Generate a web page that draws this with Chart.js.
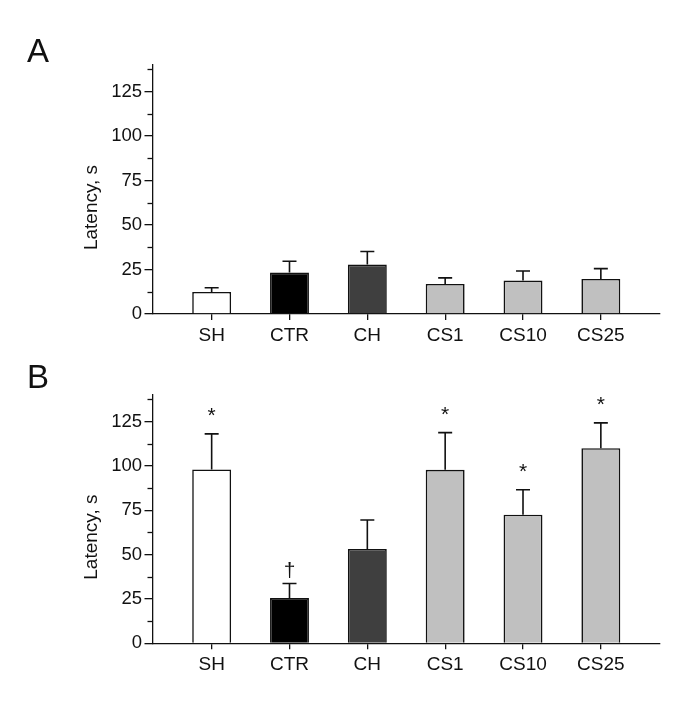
<!DOCTYPE html>
<html>
<head>
<meta charset="utf-8">
<script src="https://cdn.jsdelivr.net/npm/chart.js@4"></script>
<style>
  html, body { margin: 0; padding: 0; background: #fff; }
  #wrap { position: relative; width: 685px; height: 711px; }
  canvas { position: absolute; left: 0; }
</style>
</head>
<body>
<div id="wrap">
  <canvas id="cA" width="685" height="355" style="top:0"></canvas>
  <canvas id="cB" width="685" height="356" style="top:355px"></canvas>
</div>
<script>
// ---- data ----
const categories = ['SH', 'CTR', 'CH', 'CS1', 'CS10', 'CS25'];
const yTickValues = [0, 25, 50, 75, 100, 125];
const yTitle = 'Latency, s';

const latencyA = [12.4, 23.3, 27.8, 16.9, 18.8, 19.7];
const errorA   = [2.4, 6.4, 7.3, 3.4, 5.4, 5.8];
const marksA   = ['', '', '', '', '', ''];

const latencyB = [98.0, 25.5, 53.2, 97.8, 72.5, 110.0];
const errorB   = [20.1, 8.2, 16.3, 21.0, 14.1, 14.3];
const marksB   = ['*', '\u2020', '', '*', '*', '*'];

// ---- styles ----
const barColors = ['#ffffff', '#000000', '#3f3f3f', '#c0c0c0', '#c0c0c0', '#c0c0c0'];
const FONT = "'Liberation Sans', Arial, Helvetica, sans-serif";
const INK = '#111111';
Chart.defaults.font.family = FONT;
Chart.defaults.color = INK;

const decorPlugin = {
  id: 'decor',
  afterDatasetsDraw(chart, args, opts) {
    const ctx = chart.ctx;
    const y = chart.scales.y;
    const area = chart.chartArea;
    const values = opts.values, errs = opts.errors, marks = opts.marks;
    ctx.save();
    // minor ticks on y axis
    ctx.strokeStyle = INK;
    ctx.lineWidth = 1.3;
    for (let v = 12.5; v < y.max; v += 25) {
      const py = Math.round(y.getPixelForValue(v)) + 0.5;
      ctx.beginPath();
      ctx.moveTo(area.left - 5, py);
      ctx.lineTo(area.left, py);
      ctx.stroke();
    }
    // error bars
    const meta = chart.getDatasetMeta(0);
    ctx.lineWidth = 1.6;
    meta.data.forEach((bar, i) => {
      const top = y.getPixelForValue(values[i] + errs[i]);
      ctx.beginPath();
      ctx.moveTo(bar.x, bar.y);
      ctx.lineTo(bar.x, top);
      ctx.moveTo(bar.x - 7, top);
      ctx.lineTo(bar.x + 7, top);
      ctx.stroke();
      const m = marks[i];
      if (m) {
        ctx.fillStyle = INK;
        ctx.textAlign = 'center';
        ctx.textBaseline = 'alphabetic';
        ctx.font = '21px ' + FONT;
        const off = (m === '*') ? 12 : 7;
        ctx.fillText(m, bar.x, top - off);
      }
    });
    // panel letter
    ctx.fillStyle = INK;
    ctx.textAlign = 'left';
    ctx.textBaseline = 'alphabetic';
    ctx.font = '33px ' + FONT;
    ctx.fillText(opts.letter, 27, opts.letterBaseline);
    // y title
    ctx.font = '19px ' + FONT;
    ctx.textAlign = 'center';
    ctx.translate(97, (area.top + area.bottom) / 2 + 18);
    ctx.rotate(-Math.PI / 2);
    ctx.fillText(yTitle, 0, 0);
    ctx.restore();
  }
};

function makeChart(id, values, errs, marks, letter, letterBaseline, padTop, padBottom) {
  return new Chart(document.getElementById(id), {
    type: 'bar',
    data: {
      datasets: [{
        data: categories.map((c, i) => ({ x: i, y: values[i] })),
        backgroundColor: barColors,
        borderColor: '#111111',
        borderWidth: 1.6,
        borderSkipped: 'start',
        barPercentage: 0.5,
        categoryPercentage: 1.0
      }]
    },
    options: {
      responsive: false,
      devicePixelRatio: 1,
      animation: false,
      events: [],
      layout: { padding: { left: 112.5, right: 25, top: padTop, bottom: padBottom } },
      plugins: {
        legend: { display: false },
        tooltip: { enabled: false },
        decor: { values: values, errors: errs, marks: marks, letter: letter, letterBaseline: letterBaseline }
      },
      scales: {
        x: {
          type: 'linear',
          offset: false,
          min: -0.76,
          max: 5.76,
          afterBuildTicks: (s) => { s.ticks = categories.map((c, i) => ({ value: i })); },
          afterFit: (s) => { s.height = 40; },
          grid: { display: true, offset: false, drawOnChartArea: false, drawTicks: true, tickLength: 6, color: INK, lineWidth: 1.3 },
          border: { display: true, color: INK, width: 1.3 },
          ticks: {
            autoSkip: false,
            maxRotation: 0,
            padding: 4,
            font: { size: 19 },
            color: INK,
            callback: (v) => categories[v]
          }
        },
        y: {
          type: 'linear',
          min: 0,
          max: 140,
          afterBuildTicks: (s) => { s.ticks = yTickValues.map(v => ({ value: v })); },
          afterFit: (s) => { s.width = 40; },
          grid: { display: true, drawOnChartArea: false, drawTicks: true, tickLength: 8, color: INK, lineWidth: 1.3 },
          border: { display: true, color: INK, width: 1.3 },
          ticks: { padding: 2.5, font: { size: 18.5 }, color: INK }
        }
      }
    },
    plugins: [decorPlugin]
  });
}

makeChart('cA', latencyA, errorA, marksA, 'A', 62, 65, 1);
makeChart('cB', latencyB, errorB, marksB, 'B', 33, 40, 27.7);
</script>
</body>
</html>
